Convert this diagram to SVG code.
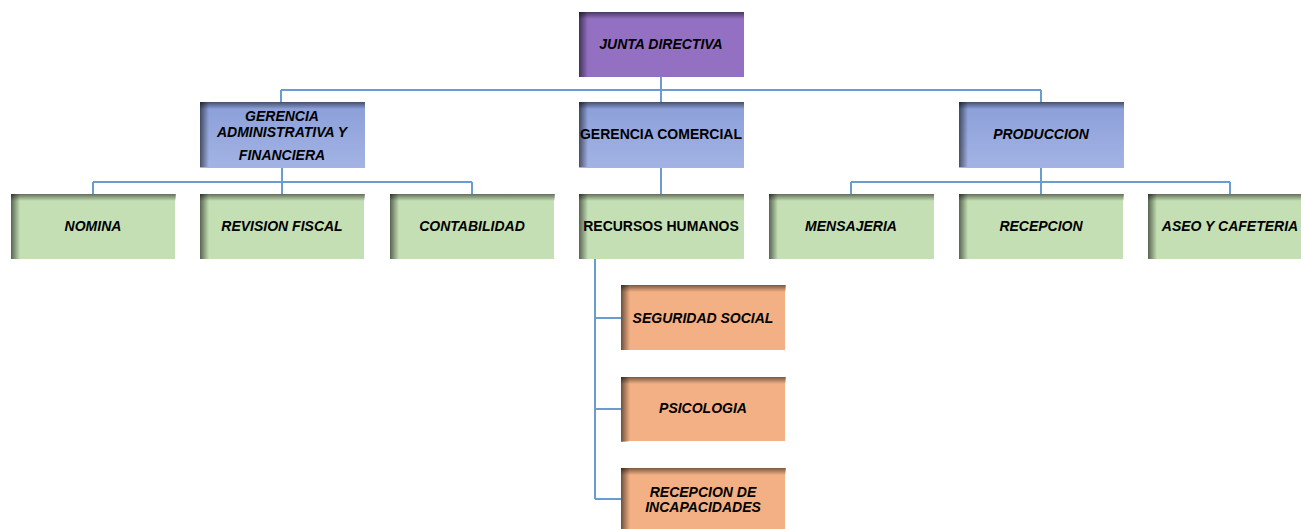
<svg xmlns="http://www.w3.org/2000/svg" width="1301" height="529" viewBox="0 0 1301 529">
<defs>
<linearGradient id="shL" x1="0" y1="0" x2="1" y2="0">
<stop offset="0" stop-color="#000" stop-opacity="0.55"/>
<stop offset="1" stop-color="#000" stop-opacity="0"/>
</linearGradient>
<linearGradient id="shT" x1="0" y1="0" x2="0" y2="1">
<stop offset="0" stop-color="#000" stop-opacity="0.5"/>
<stop offset="1" stop-color="#000" stop-opacity="0"/>
</linearGradient>
<linearGradient id="blue" x1="0" y1="0" x2="0" y2="1">
<stop offset="0" stop-color="#8a9ed8"/>
<stop offset="1" stop-color="#a3b3e4"/>
</linearGradient>
<g id="shade">
<rect x="0" y="0" width="9" height="65" fill="url(#shL)"/>
<rect x="0" y="0" width="165" height="7" fill="url(#shT)"/>
</g>
</defs>
<style>
.purple{fill:#9470c3}
.blue{fill:url(#blue)}
.green{fill:#c4dfb4}
.orange{fill:#f3b084}
.t{font-family:"Liberation Sans",Arial,sans-serif;font-size:14px;font-weight:bold;font-style:italic;fill:#000;text-anchor:middle}
.u{font-style:normal}
.c{fill:none;stroke:#6a9bd1;stroke-width:2}
</style>
<rect width="1301" height="529" fill="#fff"/>
<g id="connectors">
<path class="c" d="M661 76V102M281 90H1041M281 90V102M1041 90V102"/>
<path class="c" d="M282 168V194M93 182H472M93 182V194M472 182V194"/>
<path class="c" d="M661 168V194"/>
<path class="c" d="M1041 168V194M851 182H1230M851 182V194M1230 182V194"/>
<path class="c" d="M595 259V499M595 318H621M595 409H621M595 499H621"/>
</g>
<g id="junta"><rect class="purple" x="579" y="12" width="165" height="65"/><use href="#shade" x="579" y="12"/><text class="t" x="661" y="49">JUNTA DIRECTIVA</text></g>
<g id="gadmin"><rect class="blue" x="200" y="102" width="165" height="66"/><use href="#shade" x="200" y="102"/><text class="t" x="282" y="121">GERENCIA</text><text class="t" x="282" y="137">ADMINISTRATIVA Y</text><text class="t" x="282" y="160">FINANCIERA</text></g>
<g id="gcomercial"><rect class="blue" x="579" y="102" width="165" height="66"/><use href="#shade" x="579" y="102"/><text class="t u" x="661" y="139">GERENCIA COMERCIAL</text></g>
<g id="produccion"><rect class="blue" x="959" y="102" width="165" height="66"/><use href="#shade" x="959" y="102"/><text class="t" x="1041" y="139">PRODUCCION</text></g>
<g id="nomina"><rect class="green" x="11" y="194" width="164" height="65"/><use href="#shade" x="11" y="194"/><text class="t" x="93" y="231">NOMINA</text></g>
<g id="revision"><rect class="green" x="200" y="194" width="164" height="65"/><use href="#shade" x="200" y="194"/><text class="t" x="282" y="231">REVISION FISCAL</text></g>
<g id="contabilidad"><rect class="green" x="390" y="194" width="164" height="65"/><use href="#shade" x="390" y="194"/><text class="t" x="472" y="231">CONTABILIDAD</text></g>
<g id="recursos"><rect class="green" x="579" y="194" width="165" height="65"/><use href="#shade" x="579" y="194"/><text class="t u" x="661" y="231">RECURSOS HUMANOS</text></g>
<g id="mensajeria"><rect class="green" x="769" y="194" width="165" height="65"/><use href="#shade" x="769" y="194"/><text class="t" x="851" y="231">MENSAJERIA</text></g>
<g id="recepcion"><rect class="green" x="959" y="194" width="164" height="65"/><use href="#shade" x="959" y="194"/><text class="t" x="1041" y="231">RECEPCION</text></g>
<g id="aseo"><rect class="green" x="1148" y="194" width="165" height="65"/><use href="#shade" x="1148" y="194"/><text class="t" x="1230" y="231">ASEO Y CAFETERIA</text></g>
<g id="seguridad"><rect class="orange" x="621" y="285" width="164" height="65"/><use href="#shade" x="621" y="285"/><text class="t" x="703" y="323">SEGURIDAD SOCIAL</text></g>
<g id="psicologia"><rect class="orange" x="621" y="377" width="164" height="64"/><use href="#shade" x="621" y="377"/><text class="t" x="703" y="413">PSICOLOGIA</text></g>
<g id="incapacidades"><rect class="orange" x="621" y="468" width="164" height="65"/><use href="#shade" x="621" y="468"/><text class="t" x="703" y="497">RECEPCION DE</text><text class="t" x="703" y="512">INCAPACIDADES</text></g>
</svg>
